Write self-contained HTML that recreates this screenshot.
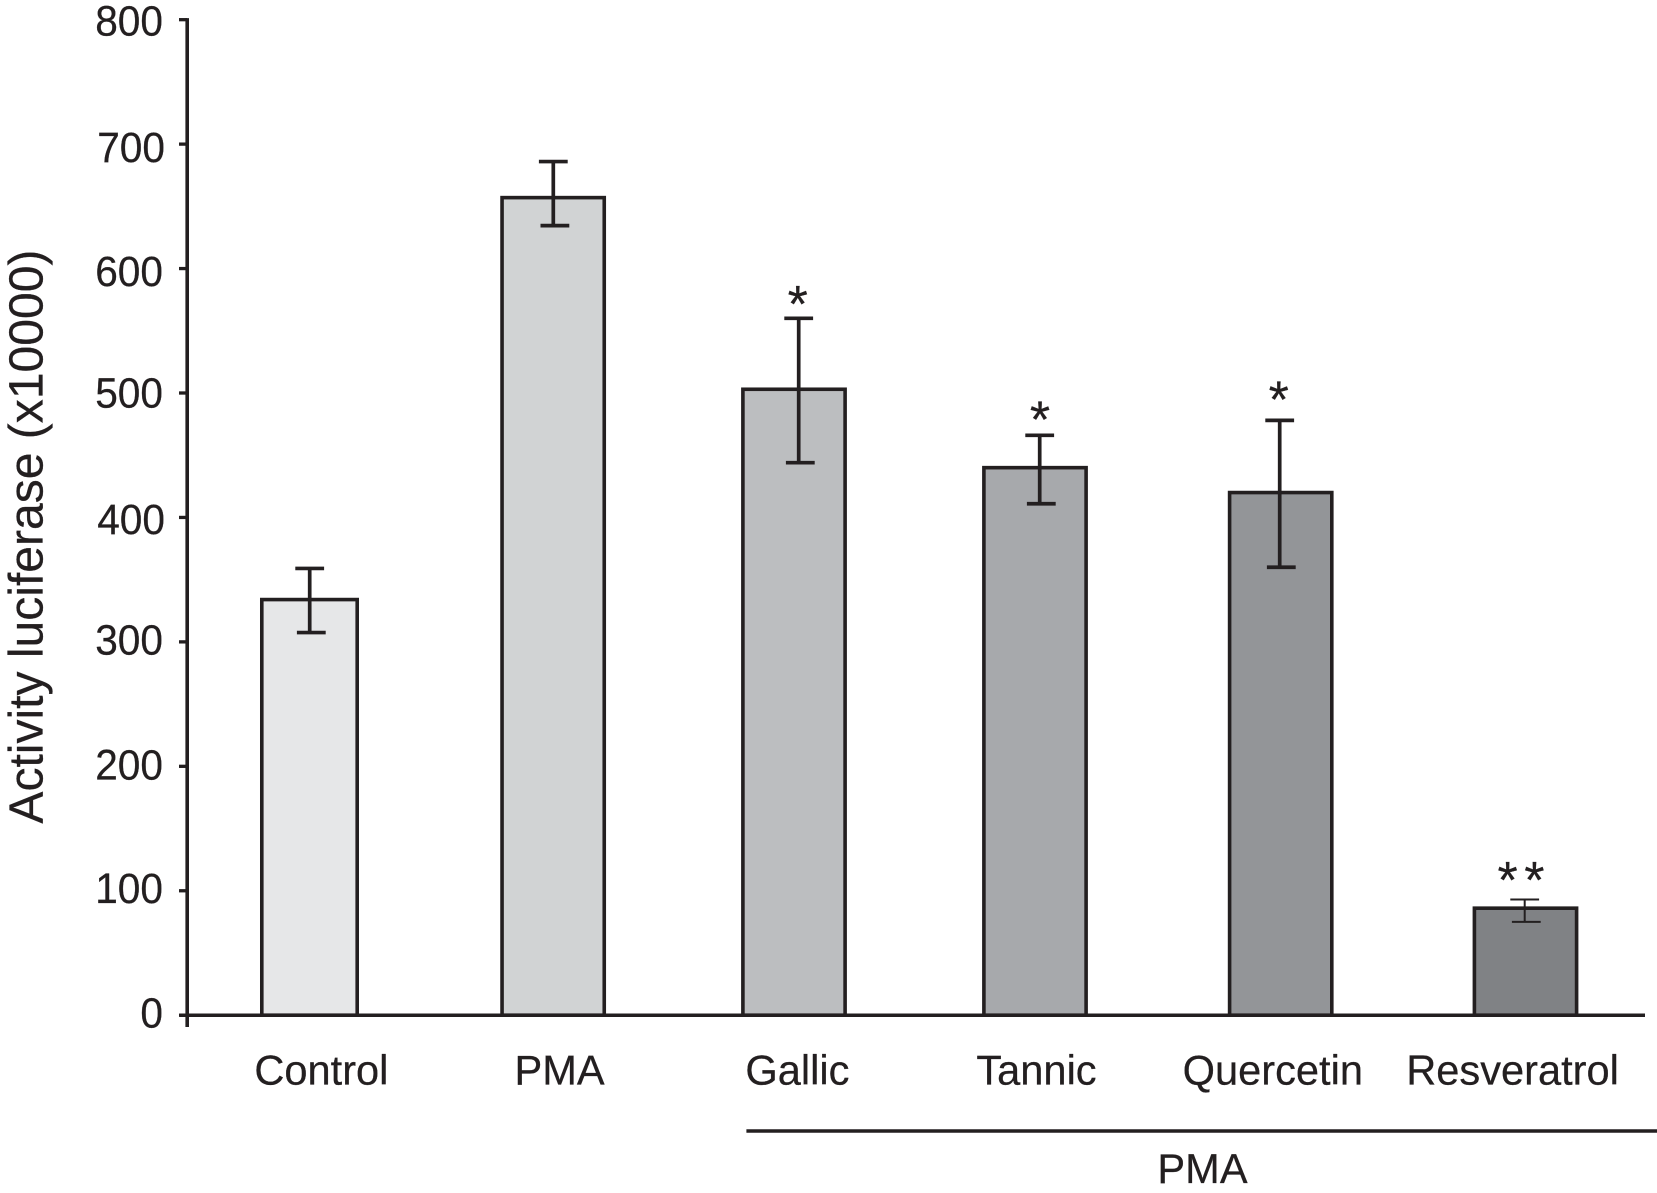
<!DOCTYPE html>
<html lang="en">
<head>
<meta charset="utf-8">
<title>Activity luciferase bar chart</title>
<style>
  html, body { margin: 0; padding: 0; background: #ffffff; width: 1657px; height: 1193px; overflow: hidden; }
  svg { display: block; }
  text { font-family: "Liberation Sans", Arial, sans-serif; fill: #231f20; stroke: #231f20; stroke-width: 0.25; }
</style>
</head>
<body>
<svg id="chart" xmlns="http://www.w3.org/2000/svg" width="1657" height="1193" viewBox="0 0 1657 1193">
  <rect x="0" y="0" width="1657" height="1193" fill="#ffffff"/>
  <text transform="translate(42.3 823.6) rotate(-90)" font-size="48" textLength="574" lengthAdjust="spacingAndGlyphs">Activity luciferase (x10000)</text>
  <line x1="746.4" y1="1131" x2="1657" y2="1131" stroke="#231f20" stroke-width="3.5"/>
  <text x="1202.5" y="1183" font-size="41.6" text-anchor="middle">PMA</text>
  <g id="y-axis"></g>
  <g id="bars"></g>
  <g id="x-axis"></g>
  <g id="error-bars"></g>
  <g id="significance"></g>
</svg>
<script>
const categories = ['Control', 'PMA', 'Gallic', 'Tannic', 'Quercetin', 'Resveratrol'];
const activity = [334, 657, 503, 440, 420, 86];
const errorUpper = [359, 686, 560, 466, 478, 93];
const errorLower = [307.5, 634.5, 444, 411, 360, 75];
const significance = ['', '', '*', '*', '*', '**'];
const yTickValues = [0, 100, 200, 300, 400, 500, 600, 700, 800];
const yTickLabels = ['0', '100', '200', '300', '400', '500', '600', '700', '800'];
const barFills = ['#e6e7e8', '#d1d3d4', '#bcbec0', '#a7a9ac', '#939598', '#808285'];

const NS = 'http://www.w3.org/2000/svg';
const INK = '#231f20';

function yScale(v) { return 1015.2 - v * 1.2444; }
function xScale(i) { return 310 + i * 243; }
function barCenter(i) { return xScale(i) + [-0.5, 0.15, -2, -4, -1.3, 0.5][i]; }
function barWidth(i) { return i === 0 ? 95.4 : 102.2; }
function stemCenter(i) { return xScale(i) + [-0.3, 0.3, 2.7, 0.7, -2.3, -0.3][i]; }
function labelCenter(i) { return xScale(i) + [11.4, 6.6, 1.4, -2.5, -9.2, -12.4][i]; }
function starCenter(i) { return stemCenter(i) + [0, 0, -1, 0.3, -1, -0.4][i]; }
function starBaselineOffset(i) { return [0, 0, 3.5, 2.4, -2.7, -1.5][i]; }
function tickLabelBaseline(v) {
  const nudge = { 700: 2.7, 600: 2.7, 400: 2.7, 300: -0.8, 100: -0.7 };
  return 1027.5 - 1.24 * v + (nudge[v] || 0);
}
function tickLabelRight(v) { return v === 700 || v === 400 ? 165 : 163; }

function make(tag, attrs, parent) {
  const el = document.createElementNS(NS, tag);
  for (const k in attrs) el.setAttribute(k, attrs[k]);
  parent.appendChild(el);
  return el;
}

const yAxis = document.getElementById('y-axis');
const xAxis = document.getElementById('x-axis');
const barsG = document.getElementById('bars');
const errG = document.getElementById('error-bars');
const sigG = document.getElementById('significance');

const yLine = make('line', { x1: 187.2, y1: yScale(800) - 1.5, x2: 187.2, y2: 1027, stroke: INK, 'stroke-width': 3.6 }, yAxis);



yTickValues.forEach((v, t) => {
  const tick = make('line', { x1: 179, y1: yScale(v), x2: 187, y2: yScale(v), stroke: INK, 'stroke-width': 3.3 }, yAxis);
  
  
  const label = make('text', { x: tickLabelRight(v), y: tickLabelBaseline(v), 'font-size': 43, 'text-anchor': 'end', textLength: yTickLabels[t].length * 22.6, lengthAdjust: 'spacingAndGlyphs' }, yAxis);
  label.textContent = yTickLabels[t];
  
  
});

categories.forEach((name, i) => {
  const key = name.toLowerCase();
  const cx = barCenter(i);
  const w = barWidth(i);
  const top = yScale(activity[i]);
  const bar = make('rect', { x: cx - w / 2, y: top, width: w, height: yScale(0) - top, fill: barFills[i], stroke: INK, 'stroke-width': 3.6 }, barsG);
  
  

  const label = make('text', { x: labelCenter(i), y: 1084.5, 'font-size': 41.6, 'text-anchor': 'middle' }, xAxis);
  label.textContent = name;
  
  

  const sx = stemCenter(i);
  const yU = yScale(errorUpper[i]);
  const yL = yScale(errorLower[i]);
  const sw = i === 5 ? 2 : 3.7;
  const stem = make('line', { x1: sx, y1: yU, x2: sx, y2: yL, stroke: INK, 'stroke-width': sw }, errG);
  
  
  const capTop = make('line', { x1: sx - 14.4, y1: yU, x2: sx + 14.4, y2: yU, stroke: INK, 'stroke-width': sw }, errG);
  
  
  const capBottom = make('line', { x1: sx - 12.8, y1: yL, x2: sx + 16, y2: yL, stroke: INK, 'stroke-width': sw }, errG);
  
  

  if (significance[i]) {
    const star = make('text', { x: starCenter(i), y: yU + starBaselineOffset(i), 'font-size': 52, 'text-anchor': 'middle', 'letter-spacing': significance[i].length > 1 ? 6.5 : 0, 'stroke-width': 1 }, sigG);
    star.textContent = significance[i];
    
    
  }
});

const xLine = make('line', { x1: 179.6, y1: yScale(0), x2: 1645, y2: yScale(0), stroke: INK, 'stroke-width': 3.5 }, xAxis);


</script>
</body>
</html>
